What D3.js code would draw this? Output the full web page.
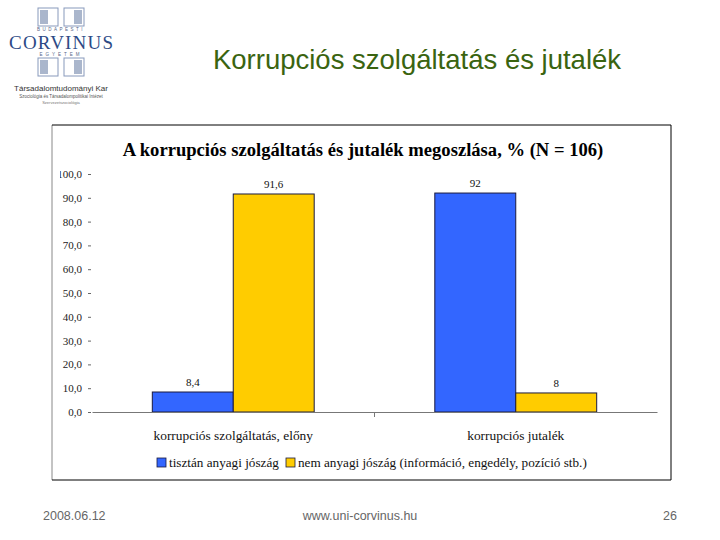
<!doctype html>
<html lang="hu">
<head>
<meta charset="UTF-8">
<title>Korrupciós szolgáltatás és jutalék</title>
<script src="https://cdnjs.cloudflare.com/ajax/libs/d3/7.8.5/d3.min.js"></script>
<style>
    body { margin: 0; background: #fff; }
    svg { display: block; }
</style>
</head>
<body>
<svg id="slide" width="720" height="540"></svg>
<script>
    // chart data
    var categories = ['korrupciós szolgáltatás, előny', 'korrupciós jutalék'];
    var seriesNames = ['tisztán anyagi jószág', 'nem anyagi jószág (információ, engedély, pozíció stb.)'];
    var seriesColors = ['#3366ff', '#ffcc00'];
    var anyagi = [8.4, 92];
    var nemAnyagi = [91.6, 8];
    var valueLabels = [['8,4', '92'], ['91,6', '8']];
    var yTicks = [0, 10, 20, 30, 40, 50, 60, 70, 80, 90, 100];

    var svg = d3.select('#slide');
    var serif = '"Liberation Serif", "DejaVu Serif", serif';
    var sans = '"Liberation Sans", Arial, sans-serif';

    // ---- logo (simplified) ----
    var logo = svg.append('g');
    function bracket(x, y, flip) {
        var g = logo.append('g').attr('transform', 'translate(' + x + ',' + y + ')');
        g.append('rect').attr('x', 0).attr('y', 0).attr('width', 20).attr('height', 18)
            .attr('fill', 'none').attr('stroke', '#8899bb').attr('stroke-width', 1);
        g.append('rect').attr('x', flip ? 10 : 2).attr('y', 2).attr('width', 8).attr('height', 14)
            .attr('fill', '#aab6cc');
    }
    bracket(38, 8, false);
    bracket(64, 8, true);
    bracket(38, 58, false);
    bracket(64, 58, true);
    logo.append('text').attr('x', 61).attr('y', 31).attr('text-anchor', 'middle')
        .attr('font-family', sans).attr('font-size', 4.5).attr('letter-spacing', 2.5)
        .attr('fill', '#556688').text('BUDAPESTI');
    logo.append('text').attr('x', 61).attr('y', 49).attr('text-anchor', 'middle')
        .attr('font-family', serif).attr('font-size', 19).attr('textLength', 104)
        .attr('fill', '#2d4a86').text('CORVINUS');
    logo.append('text').attr('x', 61).attr('y', 56).attr('text-anchor', 'middle')
        .attr('font-family', sans).attr('font-size', 4.5).attr('letter-spacing', 3)
        .attr('fill', '#556688').text('EGYETEM');
    logo.append('text').attr('x', 61).attr('y', 91).attr('text-anchor', 'middle')
        .attr('font-family', sans).attr('font-size', 8).attr('fill', '#333').text('Társadalomtudományi Kar');
    logo.append('text').attr('x', 61).attr('y', 98).attr('text-anchor', 'middle')
        .attr('font-family', sans).attr('font-size', 4.5).attr('fill', '#555').text('Szociológia és Társadalompolitikai Intézet');
    logo.append('text').attr('x', 61).attr('y', 104).attr('text-anchor', 'middle')
        .attr('font-family', sans).attr('font-size', 4).attr('fill', '#777').text('Szervezetszociológia');

    // ---- slide title ----
    svg.append('text').attr('x', 417).attr('y', 69).attr('text-anchor', 'middle')
        .attr('font-family', sans).attr('font-size', 27.5)
        .attr('fill', '#3a6410')
        .text('Korrupciós szolgáltatás és jutalék');

    // ---- chart frame ----
    var frame = {x: 52, y: 125, w: 619, h: 355};
    svg.append('defs').append('clipPath').attr('id', 'frameclip')
        .append('rect').attr('x', frame.x + 8).attr('y', frame.y).attr('width', frame.w).attr('height', frame.h);
    svg.append('line').attr('x1', frame.x).attr('x2', frame.x).attr('y1', frame.y).attr('y2', frame.y + frame.h)
        .attr('stroke', '#888');
    svg.append('line').attr('x1', frame.x).attr('x2', frame.x + frame.w).attr('y1', frame.y).attr('y2', frame.y)
        .attr('stroke', '#000');
    svg.append('line').attr('x1', frame.x + frame.w).attr('x2', frame.x + frame.w).attr('y1', frame.y).attr('y2', frame.y + frame.h)
        .attr('stroke', '#000');
    svg.append('line').attr('x1', frame.x).attr('x2', frame.x + frame.w).attr('y1', frame.y + frame.h).attr('y2', frame.y + frame.h)
        .attr('stroke', '#000');

    svg.append('text').attr('x', 363).attr('y', 156).attr('text-anchor', 'middle')
        .attr('font-family', serif).attr('font-weight', 'bold').attr('font-size', 18.6).attr('fill', '#000')
        .text('A korrupciós szolgáltatás és jutalék megoszlása, % (N = 106)');

    // ---- scales ----
    var plotLeft = 92, plotRight = 657;
    var y = d3.scaleLinear().domain([0, 100]).range([412, 174]);
    var x0 = d3.scaleBand().domain(categories).range([plotLeft, plotRight]).paddingInner(0).paddingOuter(0);
    var x1 = d3.scaleBand().domain([0, 1]).range([0, x0.bandwidth()]).paddingInner(0).paddingOuter(0.745);

    var plot = svg.append('g').attr('clip-path', 'url(#frameclip)');

    // y axis labels
    var fmt = function (d) { return d3.format('.1f')(d).replace('.', ','); };
    var yAxis = d3.axisLeft(y).tickValues(yTicks).tickSize(4).tickPadding(6).tickFormat(fmt);
    var yg = plot.append('g').attr('transform', 'translate(' + 92 + ',0)').call(yAxis);
    yg.select('.domain').remove();
    yg.selectAll('.tick line').attr('stroke', '#666').attr('x1', -4).attr('x2', -1);
    yg.selectAll('.tick text').attr('font-family', serif).attr('font-size', 11).attr('fill', '#222');

    // bars
    var seriesData = [anyagi, nemAnyagi];
    var groups = plot.selectAll('g.cat').data(categories).enter().append('g')
        .attr('class', 'cat')
        .attr('transform', function (d) { return 'translate(' + x0(d) + ',0)'; });

    groups.selectAll('rect').data(function (d, ci) {
        return seriesData.map(function (s, si) { return {si: si, ci: ci, v: s[ci]}; });
    }).enter().append('rect')
        .attr('x', function (d) { return x1(d.si); })
        .attr('y', function (d) { return y(d.v); })
        .attr('width', x1.bandwidth())
        .attr('height', function (d) { return y(0) - y(d.v); })
        .attr('fill', function (d) { return seriesColors[d.si]; })
        .attr('stroke', '#1a1a40').attr('stroke-width', 1);

    groups.selectAll('text.val').data(function (d, ci) {
        return seriesData.map(function (s, si) { return {si: si, ci: ci, v: s[ci]}; });
    }).enter().append('text')
        .attr('class', 'val')
        .attr('x', function (d) { return x1(d.si) + x1.bandwidth() / 2; })
        .attr('y', function (d) { return y(d.v) - 6; })
        .attr('text-anchor', 'middle')
        .attr('font-family', serif).attr('font-size', 11).attr('fill', '#111')
        .text(function (d) { return valueLabels[d.si][d.ci]; });

    // x axis
    var xAxis = d3.axisBottom(x0).tickSize(0).tickPadding(18);
    var xg = plot.append('g').attr('transform', 'translate(0,' + y(0) + ')').call(xAxis);
    xg.select('.domain').attr('stroke', '#777');
    xg.selectAll('.tick text').attr('font-family', serif).attr('font-size', 13.4).attr('fill', '#111');
    xg.append('line').attr('x1', x0(categories[1])).attr('x2', x0(categories[1]))
        .attr('y1', 0).attr('y2', 5).attr('stroke', '#777');

    // legend
    var legendItems = [{x: 157}, {x: 286}];
    var lg = plot.selectAll('g.leg').data(seriesNames).enter().append('g')
        .attr('class', 'leg')
        .attr('transform', function (d, i) { return 'translate(' + legendItems[i].x + ',458)'; });
    lg.append('rect').attr('width', 9).attr('height', 9)
        .attr('fill', function (d, i) { return seriesColors[i]; })
        .attr('stroke', '#1a1a40').attr('stroke-width', 0.8);
    lg.append('text').attr('x', 12).attr('y', 9)
        .attr('font-family', serif).attr('font-size', 13.2).attr('fill', '#111')
        .text(function (d) { return d; });

    // ---- footer ----
    var footer = [
        {t: '2008.06.12', x: 43, anchor: 'start'},
        {t: 'www.uni-corvinus.hu', x: 360, anchor: 'middle'},
        {t: '26', x: 677, anchor: 'end'}
    ];
    svg.selectAll('text.foot').data(footer).enter().append('text')
        .attr('class', 'foot')
        .attr('x', function (d) { return d.x; })
        .attr('y', 520)
        .attr('text-anchor', function (d) { return d.anchor; })
        .attr('font-family', sans).attr('font-size', 12.5).attr('fill', '#666')
        .text(function (d) { return d.t; });
</script>
</body>
</html>
